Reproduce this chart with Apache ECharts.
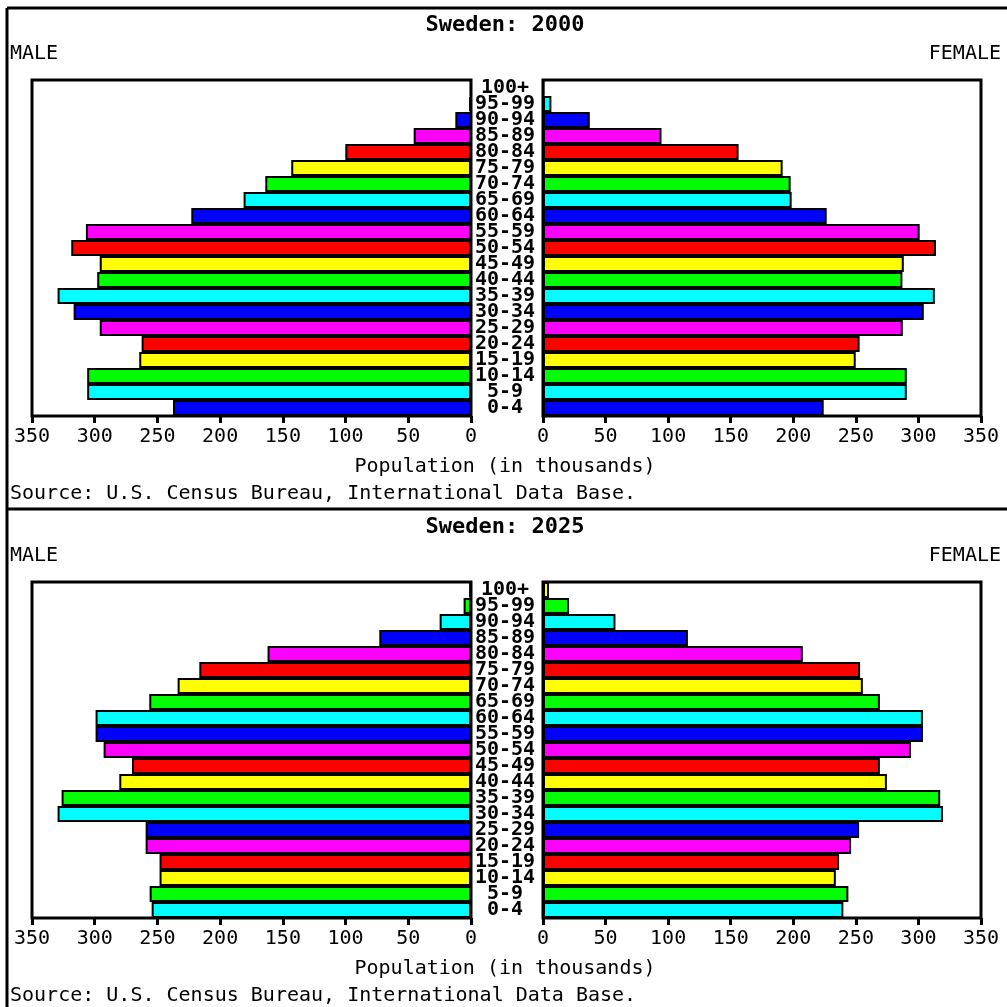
<!DOCTYPE html>
<html><head><meta charset="utf-8">
<script src="https://cdn.jsdelivr.net/npm/echarts@6/dist/echarts.min.js"></script>
<style>html,body{margin:0;padding:0;background:#fff}#c{width:1007px;height:1007px}</style>
</head><body><div id="c"></div>
<script>
// Age groups from bottom (youngest) to top (oldest)
const ageGroups = ['0-4','5-9','10-14','15-19','20-24','25-29','30-34','35-39','40-44','45-49','50-54','55-59','60-64','65-69','70-74','75-79','80-84','85-89','90-94','95-99','100+'];
const years = ['2000', '2025'];

// Population in thousands
const male2000   = [237.6, 306, 306, 264.5, 262.6, 296, 316.8, 329.6, 298, 296, 318.7, 307, 223, 181.3, 164, 143.3, 100.2, 45.7, 12.5, 1.5, 0.2];
const female2000 = [224.3, 290.7, 290.7, 249.9, 253, 287.5, 304.3, 313.1, 287.2, 288.3, 314, 301, 226.7, 198.7, 197.9, 191.5, 156.3, 94.7, 37.4, 6.7, 0.6];
const male2025   = [254.6, 256.2, 248.3, 248.3, 259.4, 259.4, 329.6, 326.4, 280.4, 270.3, 292.9, 299.3, 299.3, 256.5, 233.9, 216.6, 162.2, 73.1, 25, 5.9, 1.3];
const female2025 = [240, 244, 234, 236.6, 246.2, 252.6, 319.6, 317.4, 274.8, 269.2, 294, 303.6, 303.6, 269.2, 255.6, 253.4, 207.6, 115.8, 57.9, 20.8, 4.8];

const maleData = [male2000, male2025];
const femaleData = [female2000, female2025];
const axisMax = 350;
const axisStep = 50;

// styles
const palette = ['#0000ff', '#00ffff', '#00ff00', '#ffff00', '#ff0000', '#ff00ff'];
const paletteOffset = [0, 1];
const FONT = '"DejaVu Sans Mono", "Liberation Mono", monospace';

const chart = echarts.init(document.getElementById('c'), null, {renderer: 'canvas'});

const grid = [], xAxis = [], yAxis = [], series = [], graphic = [];

years.forEach((yr, p) => {
  const o = p * 502;
  const colored = arr => arr.map((v, i) => ({value: v, itemStyle: {color: palette[(i + paletteOffset[p]) % palette.length]}}));
  [0, 1].forEach(side => {
    const gi = p * 2 + side;
    grid.push({
      left: side === 0 ? 32 : 543, top: 80 + o, width: side === 0 ? 439 : 438, height: 336,
      show: true, borderColor: '#000', borderWidth: 3, backgroundColor: '#fff'
    });
    xAxis.push({
      type: 'value', gridIndex: gi, min: 0, max: axisMax, interval: axisStep,
      inverse: side === 0,
      axisLine: {show: false},
      axisTick: {show: true, length: 7, lineStyle: {color: '#000', width: 3}},
      axisLabel: {show: true, color: '#000', fontFamily: FONT, fontSize: 20, margin: 11},
      splitLine: {show: false}
    });
    yAxis.push({
      type: 'category', gridIndex: gi, data: ageGroups,
      position: side === 0 ? 'right' : 'left',
      axisLine: {show: false}, axisTick: {show: false}, splitLine: {show: false},
      axisLabel: side === 0
        ? {show: true, interval: 0, align: 'center', margin: 34, color: '#000', fontFamily: FONT, fontWeight: 'bold', fontSize: 20, lineHeight: 16}
        : {show: false}
    });
    series.push({
      type: 'bar', xAxisIndex: gi, yAxisIndex: gi,
      data: colored(side === 0 ? maleData[p] : femaleData[p]),
      barWidth: '100%', barCategoryGap: 0,
      itemStyle: {borderColor: '#000', borderWidth: 2},
      silent: true
    });
  });
  const txt = (text, x, y, align, bold, size) => ({
    type: 'text', x: x, y: y, silent: true,
    style: {text: text, fill: '#000', textAlign: align, textVerticalAlign: 'middle',
      font: (bold ? 'bold ' : '') + size + 'px ' + FONT}
  });
  graphic.push(txt('Sweden: ' + yr, 505, 25 + o, 'center', true, 22));
  graphic.push(txt('MALE', 10, 54 + o, 'left', false, 20));
  graphic.push(txt('FEMALE', 1001, 54 + o, 'right', false, 20));
  graphic.push(txt('Population (in thousands)', 505, 467 + o, 'center', false, 20));
  graphic.push(txt('Source: U.S. Census Bureau, International Data Base.', 10, 494 + o, 'left', false, 20));
});

const line = (x1, y1, x2, y2) => ({type: 'line', silent: true, shape: {x1, y1, x2, y2}, style: {stroke: '#000', lineWidth: 3}});
graphic.push(line(7, 8, 1007, 8));
graphic.push(line(7, 8, 7, 1007));
graphic.push(line(7, 509, 1007, 509));

chart.setOption({
  animation: false,
  backgroundColor: '#fff',
  grid, xAxis, yAxis, series, graphic
});
</script>
</body></html>
